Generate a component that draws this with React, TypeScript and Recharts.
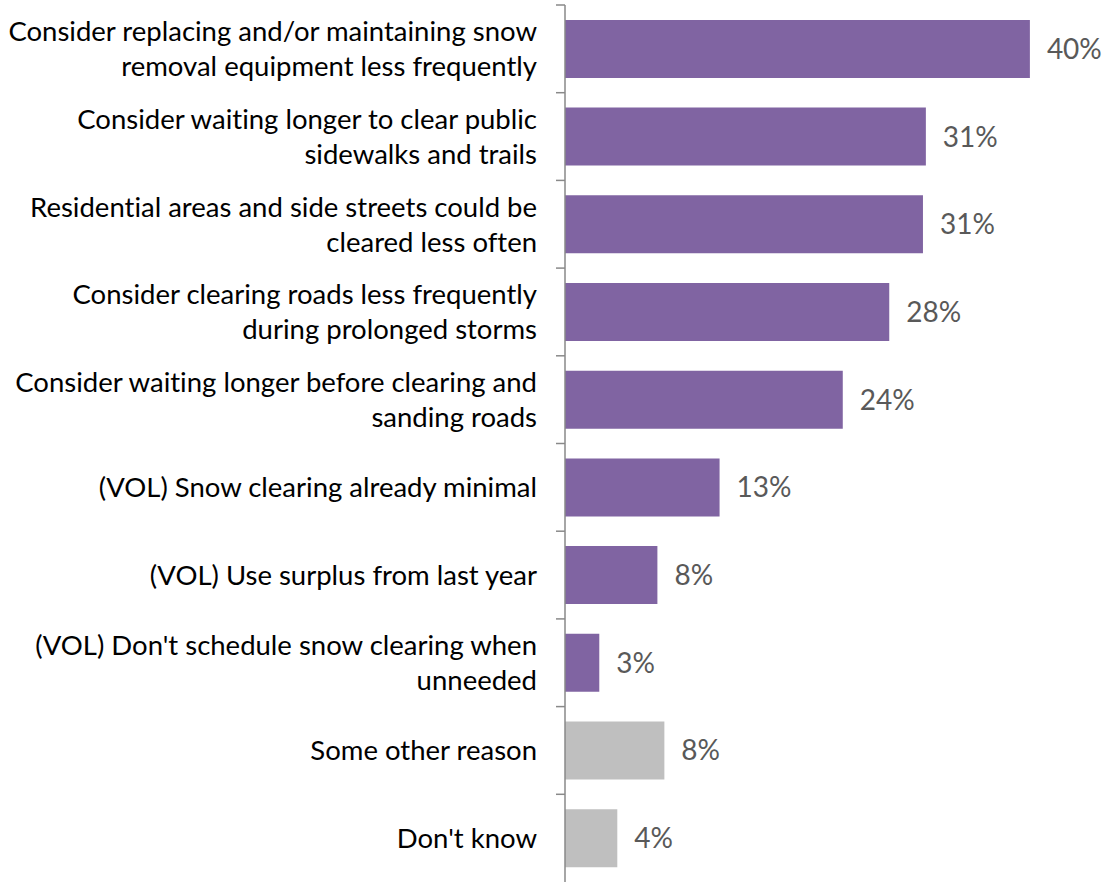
import React from 'react';
import { BarChart, Bar, XAxis, YAxis, Cell, LabelList } from 'recharts';

const categories = [
  'Consider replacing and/or maintaining snow\nremoval equipment less frequently',
  'Consider waiting longer to clear public\nsidewalks and trails',
  'Residential areas and side streets could be\ncleared less often',
  'Consider clearing roads less frequently\nduring prolonged storms',
  'Consider waiting longer before clearing and\nsanding roads',
  '(VOL) Snow clearing already minimal',
  '(VOL) Use surplus from last year',
  "(VOL) Don't schedule snow clearing when\nunneeded",
  'Some other reason',
  "Don't know",
];

// bar lengths as drawn, and the rounded percentages printed beside them
const values = [40.0, 31.05, 30.8, 27.9, 23.9, 13.3, 7.95, 2.95, 8.55, 4.5];
const shownPct = [40, 31, 31, 28, 24, 13, 8, 3, 8, 4];
const groups = ['plan', 'plan', 'plan', 'plan', 'plan', 'plan', 'plan', 'plan', 'other', 'other'];

const data = categories.map((name, i) => ({
  name,
  value: values[i],
  pct: shownPct[i],
  group: groups[i],
}));

const W = 1107;
const H = 882;
const MARGIN = { top: 5, right: 19, bottom: 0, left: 0 };
const AXIS_W = 565;
const BAND = (H - MARGIN.top - MARGIN.bottom) / categories.length;
const FONT = 'Lato, "Open Sans", sans-serif';
const AXIS_COLOR = '#898989';

const CategoryTick = ({ x, y, payload }: any) => {
  const lines = String(payload.value).split('\n');
  const lh = 35;
  return (
    <g>
      <line x1={x - 9} x2={x} y1={y - BAND / 2} y2={y - BAND / 2} stroke={AXIS_COLOR} strokeWidth={1.5} />
      <text
        x={x - 28}
        y={y}
        textAnchor="end"
        fontSize={27.5}
        fontFamily={FONT}
        fill="#000"
        style={{ fontVariantLigatures: 'none' }}
      >
        {lines.map((ln, i) => (
          <tspan key={i} x={x - 28} y={y + 10 + (i - (lines.length - 1) / 2) * lh}>
            {ln}
          </tspan>
        ))}
      </text>
    </g>
  );
};

export default function App() {
  return (
    <div style={{ position: 'absolute', left: 0, top: 0, width: W, height: H, background: '#fff' }}>
      <BarChart width={W} height={H} data={data} layout="vertical" margin={MARGIN} barCategoryGap="17%">
        <XAxis type="number" domain={[0, 45]} hide />
        <YAxis
          type="category"
          dataKey="name"
          width={AXIS_W}
          tickLine={false}
          tickSize={0}
          tickMargin={0}
          interval={0}
          axisLine={{ stroke: AXIS_COLOR, strokeWidth: 1.5 }}
          tick={<CategoryTick />}
        />
        <Bar dataKey="value" isAnimationActive={false}>
          {data.map((d, i) => (
            <Cell key={i} fill={d.group === 'plan' ? '#8064A2' : '#BFBFBF'} />
          ))}
          <LabelList
            dataKey="pct"
            position="right"
            offset={17}
            formatter={(v: any) => `${v}%`}
            style={{ fontSize: 28, fontFamily: FONT, fill: '#595959' }}
          />
        </Bar>
      </BarChart>
    </div>
  );
}
